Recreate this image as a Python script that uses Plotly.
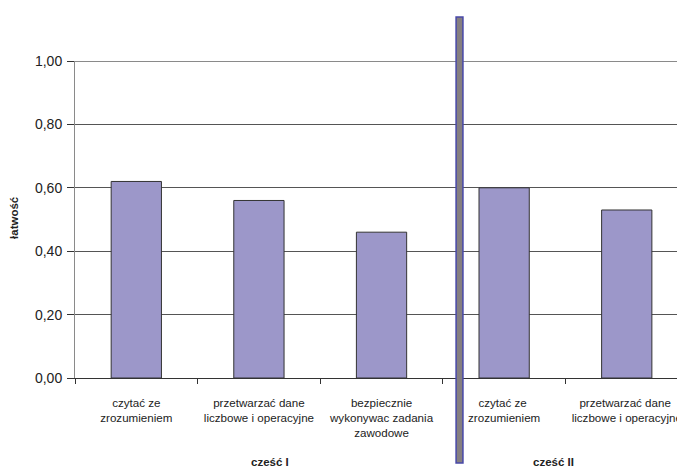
import plotly.graph_objects as go

categories = ["czytać ze<br>zrozumieniem",
              "przetwarzać dane<br>liczbowe i operacyjne",
              "bezpiecznie<br>wykonywac zadania<br>zawodowe",
              "czytać ze <br>zrozumieniem",
              "przetwarzać dane <br>liczbowe i operacyjne"]
values = [0.62, 0.56, 0.46, 0.60, 0.53]
groups = ["cześć I", "cześć II"]
group_pos = [1.09, 3.4]
y_ticks = [0.0, 0.2, 0.4, 0.6, 0.8, 1.0]

FONT = "Liberation Sans, Arial, sans-serif"

fig = go.Figure()
fig.add_trace(go.Bar(
    x=categories, y=values, width=0.41,
    marker=dict(color="#9c97c9", line=dict(color="#333333", width=1)),
    showlegend=False, hoverinfo="x+y",
))

# page body has an 8px default margin, so the figure is drawn 8px smaller
fig.update_layout(
    width=677, height=460,
    margin=dict(l=67, r=0, t=53, b=90),
    paper_bgcolor="white", plot_bgcolor="white",
    separators=",.",
    font=dict(family=FONT, color="#222222", size=11.6),
    bargap=0.59,
)
fig.update_xaxes(
    type="category", range=[-0.5, 4.475], automargin=False,
    showline=True, linecolor="#333333", linewidth=1,
    ticks="outside", tickson="boundaries", ticklen=5, tickcolor="#333333",
    ticklabelstandoff=14, tickangle=0,
    tickfont=dict(size=11.6, family=FONT, color="#222222"),
    showgrid=False, fixedrange=True,
)
fig.update_yaxes(
    range=[0, 1.0], tickvals=y_ticks, tickformat=".2f", automargin=False,
    showline=True, linecolor="#8a8a8a", linewidth=1,
    ticks="outside", ticklen=7, tickcolor="#333333",
    ticklabelstandoff=2,
    tickfont=dict(size=14, family=FONT, color="#222222"),
    showgrid=True, gridcolor="#555555", gridwidth=1,
    zeroline=False, fixedrange=True,
)
# top gridline (lighter, thicker)
fig.add_shape(type="line", xref="paper", yref="y", x0=0, x1=1, y0=1.0, y1=1.0,
              line=dict(color="#8a8a8a", width=2))
# vertical separator between parts
fig.add_shape(type="rect", xref="x", yref="paper",
              x0=2.636 - 0.028, x1=2.636 + 0.028, y0=-0.268, y1=1.139,
              fillcolor="#857f80", line=dict(color="#4848a8", width=1.5))

for g, p in zip(groups, group_pos):
    fig.add_annotation(text=f"<b>{g}</b>", x=p, xref="x", y=-0.265, yref="paper",
                       xanchor="center", yanchor="middle",
                       showarrow=False, font=dict(size=11.5, family=FONT, color="#222222"))

fig.add_annotation(text="<b>łatwość</b>", xref="paper", yref="paper",
                   x=-0.1, y=0.505, xanchor="center", yanchor="middle",
                   textangle=-90, showarrow=False,
                   font=dict(size=11.5, family=FONT, color="#222222"))

fig.write_html("out.html")
